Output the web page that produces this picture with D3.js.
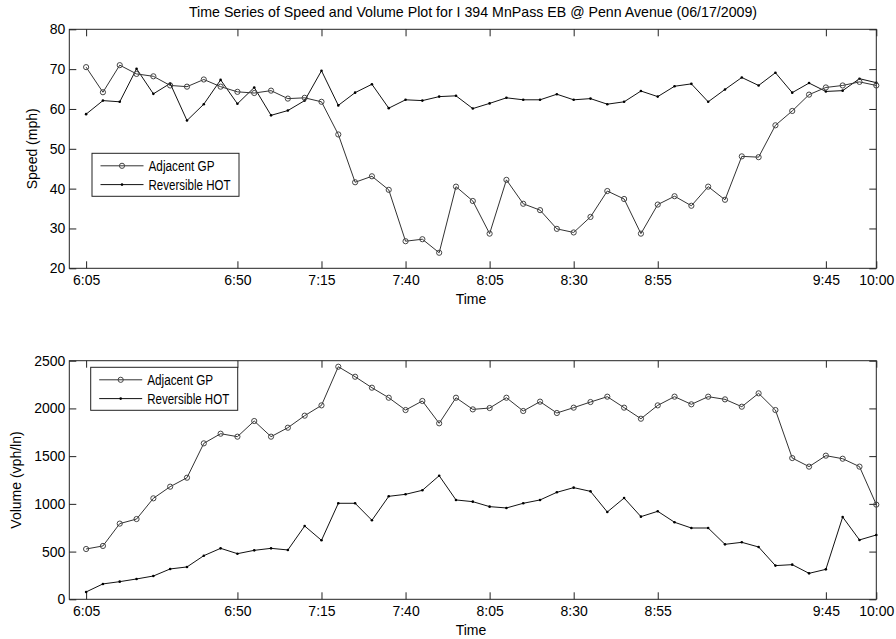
<!DOCTYPE html>
<html>
<head>
<meta charset="utf-8">
<script src="https://cdn.jsdelivr.net/npm/d3@7"></script>
<style>
  body { margin: 0; background: #fff; }
  text { font-family: "Liberation Sans", Arial, sans-serif; fill: #000; }
</style>
</head>
<body>
<div id="chart"></div>
<script>
// data, 5 minute intervals
var times = ["6:05","6:10","6:15","6:20","6:25","6:30","6:35","6:40","6:45","6:50",
  "6:55","7:00","7:05","7:10","7:15","7:20","7:25","7:30","7:35","7:40",
  "7:45","7:50","7:55","8:00","8:05","8:10","8:15","8:20","8:25","8:30",
  "8:35","8:40","8:45","8:50","8:55","9:00","9:05","9:10","9:15","9:20",
  "9:25","9:30","9:35","9:40","9:45","9:50","9:55","10:00"];

var speedGP = [70.5,64.2,71.0,68.8,68.2,65.9,65.6,67.4,65.6,64.3,
  64.0,64.6,62.6,62.8,61.8,53.6,41.6,43.1,39.7,26.8,
  27.3,23.9,40.5,36.9,28.7,42.2,36.2,34.6,29.9,29.0,
  32.9,39.4,37.4,28.7,36.0,38.1,35.7,40.5,37.2,48.1,
  47.9,55.9,59.5,63.6,65.4,65.9,66.8,65.9];

var speedHOT = [58.7,62.1,61.8,70.1,63.8,66.4,57.1,61.2,67.3,61.3,
  65.4,58.4,59.6,62.1,69.6,60.9,64.1,66.2,60.2,62.3,
  62.1,63.1,63.3,60.1,61.4,62.8,62.3,62.3,63.7,62.3,
  62.6,61.2,61.8,64.5,63.1,65.7,66.3,61.8,64.9,67.9,
  65.9,69.1,64.1,66.5,64.4,64.6,67.6,66.6];

var volGP = [527,559,793,841,1058,1180,1274,1634,1735,1704,
  1868,1704,1798,1924,2032,2437,2332,2217,2112,1983,
  2078,1844,2112,1990,2004,2112,1973,2071,1952,2008,
  2067,2123,2008,1892,2032,2123,2043,2123,2095,2018,
  2158,1983,1480,1390,1505,1473,1390,992];

var volHOT = [77,161,185,213,244,318,339,457,534,478,
  513,534,517,768,618,1006,1006,828,1079,1100,
  1142,1295,1041,1023,971,957,1006,1041,1121,1170,
  1131,915,1061,866,922,807,747,747,576,597,
  548,353,363,272,314,862,622,674];

var xTickLabels = ["6:05","6:50","7:15","7:40","8:05","8:30","8:55","9:45","10:00"];
var speedTicks = [20,30,40,50,60,70,80];
var volTicks = [0,500,1000,1500,2000,2500];
var seriesNames = ["Adjacent GP","Reversible HOT"];

var W = 896, H = 639;
var svg = d3.select("#chart").append("svg")
    .attr("width", W).attr("height", H);

function toMin(t) {
  var p = t.split(":");
  return +p[0] * 60 + +p[1];
}

var x = d3.scaleLinear()
    .domain([360, 600])
    .range([69.3, 876.3]);

svg.append("text")
    .attr("x", 473).attr("y", 16.5)
    .attr("text-anchor", "middle")
    .style("font-size", "14.2px")
    .text("Time Series of Speed and Volume Plot for I 394 MnPass EB @ Penn Avenue (06/17/2009)");

function panel(top, bottom, yDomain, yTicks, gp, hot, yLabel, yLabelX, legendBox) {
  var y = d3.scaleLinear().domain(yDomain).range([bottom, top]);
  var g = svg.append("g");

  var xVals = xTickLabels.map(toMin);

  g.append("g")
      .attr("transform", "translate(0," + bottom + ")")
      .call(d3.axisBottom(x).tickValues(xVals)
        .tickFormat(function(d, i) { return xTickLabels[i]; })
        .tickSizeInner(-7).tickSizeOuter(0).tickPadding(7));
  g.append("g")
      .attr("transform", "translate(0," + top + ")")
      .call(d3.axisTop(x).tickValues(xVals).tickFormat("")
        .tickSizeInner(-7).tickSizeOuter(0));
  g.append("g")
      .attr("transform", "translate(" + x.range()[0] + ",0)")
      .call(d3.axisLeft(y).tickValues(yTicks).tickFormat(d3.format("d"))
        .tickSizeInner(-7).tickSizeOuter(0).tickPadding(4));
  g.append("g")
      .attr("transform", "translate(" + x.range()[1] + ",0)")
      .call(d3.axisRight(y).tickValues(yTicks).tickFormat("")
        .tickSizeInner(-7).tickSizeOuter(0));

  g.selectAll(".domain").remove();
  g.selectAll(".tick line").attr("stroke", "#222");
  g.selectAll(".tick text")
      .style("font-size", "14px")
      .style("font-family", "'Liberation Sans', Arial, sans-serif")
      .attr("fill", "#000");

  g.append("rect")
      .attr("x", x.range()[0]).attr("y", top)
      .attr("width", x.range()[1] - x.range()[0])
      .attr("height", bottom - top)
      .attr("fill", "none").attr("stroke", "#222");

  var line = d3.line()
      .x(function(d, i) { return x(toMin(times[i])); })
      .y(function(d) { return y(d); });

  g.append("path").datum(hot)
      .attr("d", line).attr("fill", "none")
      .attr("stroke", "#111").attr("stroke-width", 1);
  g.selectAll(".dot").data(hot).enter().append("circle")
      .attr("cx", function(d, i) { return x(toMin(times[i])); })
      .attr("cy", function(d) { return y(d); })
      .attr("r", 1.3).attr("fill", "#000");

  g.append("path").datum(gp)
      .attr("d", line).attr("fill", "none")
      .attr("stroke", "#333").attr("stroke-width", 1);
  g.selectAll(".ring").data(gp).enter().append("circle")
      .attr("cx", function(d, i) { return x(toMin(times[i])); })
      .attr("cy", function(d) { return y(d); })
      .attr("r", 2.6).attr("fill", "none")
      .attr("stroke", "#444").attr("stroke-width", 1);

  // axis labels
  g.append("text")
      .attr("transform", "translate(" + yLabelX + "," + ((top + bottom) / 2) + ") rotate(-90)")
      .attr("text-anchor", "middle")
      .style("font-size", "14px")
      .text(yLabel);
  g.append("text")
      .attr("x", 471).attr("y", bottom + 36)
      .attr("text-anchor", "middle")
      .style("font-size", "14px")
      .text("Time");

  // legend
  var lg = g.append("g");
  lg.append("rect")
      .attr("x", legendBox[0]).attr("y", legendBox[1])
      .attr("width", 147).attr("height", 43)
      .attr("fill", "#fff").attr("stroke", "#222");
  seriesNames.forEach(function(name, i) {
    var ry = legendBox[1] + 12.5 + i * 18.8;
    var x0 = legendBox[0] + 8.5;
    lg.append("line")
        .attr("x1", x0).attr("x2", x0 + 43)
        .attr("y1", ry).attr("y2", ry)
        .attr("stroke", i === 0 ? "#333" : "#111");
    if (i === 0) {
      lg.append("circle").attr("cx", x0 + 21.5).attr("cy", ry)
          .attr("r", 2.6).attr("fill", "none").attr("stroke", "#444");
    } else {
      lg.append("circle").attr("cx", x0 + 21.5).attr("cy", ry)
          .attr("r", 1.3).attr("fill", "#000");
    }
    lg.append("text")
        .attr("x", x0 + 48).attr("y", ry)
        .attr("dy", "0.36em")
        .style("font-family", "'Liberation Sans Narrow', 'Liberation Sans', Arial, sans-serif")
        .style("font-size", "14px")
        .attr("textLength", i === 0 ? 66 : 82)
        .attr("lengthAdjust", "spacingAndGlyphs")
        .text(name);
  });
}

panel(29.3, 268.3, [20, 80], speedTicks, speedGP, speedHOT, "Speed (mph)", 37, [92, 153.3]);
panel(360.7, 599.3, [0, 2500], volTicks, volGP, volHOT, "Volume (vph/ln)", 21, [90.7, 367.3]);
</script>
</body>
</html>
